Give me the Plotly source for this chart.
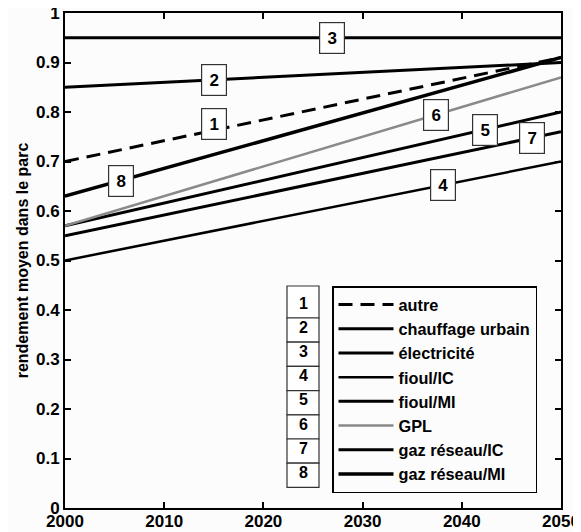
import numpy as np
import plotly.graph_objects as go

# ---- data ----
years = [2000, 2050]
autre = [0.70, 0.91]
chauffage_urbain = [0.85, 0.90]
electricite = [0.95, 0.95]
fioul_IC = [0.50, 0.70]
fioul_MI = [0.57, 0.80]
GPL = [0.57, 0.87]
gaz_reseau_IC = [0.55, 0.76]
gaz_reseau_MI = [0.63, 0.91]

series_names = ["autre", "chauffage urbain", "électricité", "fioul/IC",
                "fioul/MI", "GPL", "gaz réseau/IC", "gaz réseau/MI"]
series_values = [autre, chauffage_urbain, electricite, fioul_IC,
                 fioul_MI, GPL, gaz_reseau_IC, gaz_reseau_MI]
series_numbers = ["1", "2", "3", "4", "5", "6", "7", "8"]
label_years = [2015, 2015, 2026.9, 2038.1, 2042.3, 2037.4, 2047.1, 2005.6]

x_ticks = [2000, 2010, 2020, 2030, 2040, 2050]
y_ticks = [0, 0.1, 0.2, 0.3, 0.4, 0.5, 0.6, 0.7, 0.8, 0.9, 1]
y_ticklabels = ["0", "0.1", "0.2", "0.3", "0.4", "0.5", "0.6", "0.7", "0.8", "0.9", "1"]

# ---- styles ----
FONT = "Liberation Sans, Arial, sans-serif"
styles = [
    dict(color="black", width=3, dash="14px,8px"),
    dict(color="black", width=3),
    dict(color="black", width=3),
    dict(color="black", width=2.5),
    dict(color="black", width=3),
    dict(color="#8a8a8a", width=2.5),
    dict(color="black", width=3),
    dict(color="black", width=3.5),
]
label_yshift = [6, 0, 0, 0, 0, 0, 0, 0]

# page body has an 8px default margin -> compensate
OFF = 8
W, H = 581 - OFF, 532 - OFF
L, R, T, B = 65 - OFF, 20, 13 - OFF, 24
PLOT_W = W - L - R   # 496
PLOT_H = H - T - B   # 495


def px_x(px):
    return (px - 65) / PLOT_W


def px_y(py):
    return (508 - py) / PLOT_H


fig = go.Figure()
for name, vals, st in zip(series_names, series_values, styles):
    fig.add_trace(go.Scatter(x=years, y=vals, mode="lines", name=name, line=st))

annotations = []
for num, ly, vals, ys in zip(series_numbers, label_years, series_values, label_yshift):
    yv = float(np.interp(ly, years, vals))
    annotations.append(dict(
        x=ly, y=yv, xref="x", yref="y", text=num, showarrow=False,
        font=dict(family=FONT, size=17, color="black", weight="bold"),
        bgcolor="white", bordercolor="#333", borderwidth=1.2, borderpad=3,
        width=18, height=24, yshift=ys))

# number column next to the legend (paper coords)
col_x0, col_x1 = px_x(287), px_x(319)
row_edges_px = [286, 318] + [318 + 24.2 * k for k in range(1, 8)]
shapes = []
for i, num in enumerate(series_numbers):
    y1 = px_y(row_edges_px[i])
    y0 = px_y(row_edges_px[i + 1])
    shapes.append(dict(type="rect", xref="paper", yref="paper",
                       x0=col_x0, x1=col_x1, y0=y0, y1=y1,
                       line=dict(color="#333", width=1.2), fillcolor="white"))
    annotations.append(dict(x=(col_x0 + col_x1) / 2, y=px_y(303 + 24.2 * i),
                            xref="paper", yref="paper", text=num, showarrow=False,
                            yanchor="middle", xanchor="center",
                            font=dict(family=FONT, size=16, color="black", weight="bold")))

fig.update_layout(
    width=W, height=H,
    margin=dict(l=L, r=R, t=T, b=B, autoexpand=False),
    paper_bgcolor="#fcfcfc", plot_bgcolor="#fcfcfc",
    font=dict(family=FONT, color="black"),
    showlegend=True,
    legend=dict(x=px_x(332), y=px_y(286), xanchor="left", yanchor="top",
                bgcolor="#fcfcfc", bordercolor="black", borderwidth=1.5,
                font=dict(family=FONT, size=16.3, color="black", weight="bold"),
                itemwidth=55, tracegroupgap=0),
    annotations=annotations,
    shapes=shapes,
    xaxis=dict(range=[2000, 2050], tickvals=x_ticks, ticks="inside", ticklen=6,
               tickwidth=1.5, tickcolor="black", showline=True, linecolor="black",
               linewidth=2, mirror="ticks", showgrid=False, zeroline=False,
               automargin=False, ticklabeloverflow="allow", ticklabelstandoff=-3,
               tickfont=dict(family=FONT, size=17, color="black", weight="bold")),
    yaxis=dict(range=[0, 1], tickvals=y_ticks, ticktext=y_ticklabels,
               ticks="inside", ticklen=6, tickwidth=1.5, tickcolor="black",
               showline=True, linecolor="black", linewidth=2, mirror="ticks",
               showgrid=False, zeroline=False, automargin=False,
               ticklabeloverflow="allow",
               tickfont=dict(family=FONT, size=17, color="black", weight="bold"),
               title=dict(text="rendement moyen dans le parc", standoff=3,
                          font=dict(family=FONT, size=16, color="black", weight="bold"))),
)

fig.write_html("out.html")
